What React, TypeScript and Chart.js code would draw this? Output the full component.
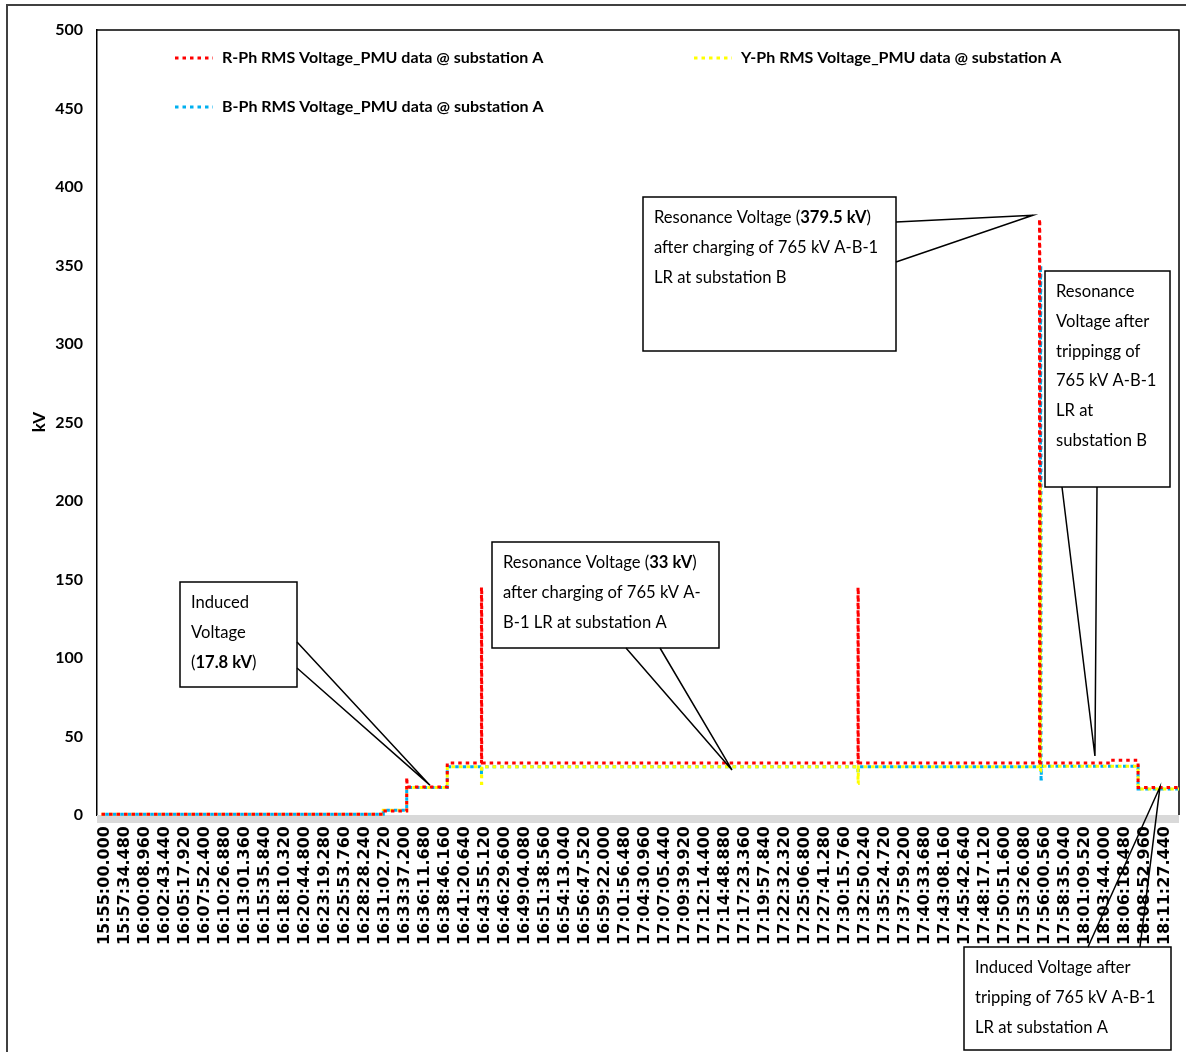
import React, { useEffect, useRef } from "react";
import { Chart, registerables } from "chart.js";

Chart.register(...registerables);

// ---------- data ----------
const tickLabels = [
  "15:55:00.000", "15:57:34.480", "16:00:08.960", "16:02:43.440", "16:05:17.920", "16:07:52.400",
  "16:10:26.880", "16:13:01.360", "16:15:35.840", "16:18:10.320", "16:20:44.800", "16:23:19.280",
  "16:25:53.760", "16:28:28.240", "16:31:02.720", "16:33:37.200", "16:36:11.680", "16:38:46.160",
  "16:41:20.640", "16:43:55.120", "16:46:29.600", "16:49:04.080", "16:51:38.560", "16:54:13.040",
  "16:56:47.520", "16:59:22.000", "17:01:56.480", "17:04:30.960", "17:07:05.440", "17:09:39.920",
  "17:12:14.400", "17:14:48.880", "17:17:23.360", "17:19:57.840", "17:22:32.320", "17:25:06.800",
  "17:27:41.280", "17:30:15.760", "17:32:50.240", "17:35:24.720", "17:37:59.200", "17:40:33.680",
  "17:43:08.160", "17:45:42.640", "17:48:17.120", "17:50:51.600", "17:53:26.080", "17:56:00.560",
  "17:58:35.040", "18:01:09.520", "18:03:44.000", "18:06:18.480", "18:08:52.960", "18:11:27.440",
];

const axisStart = "15:54:25.000";
const axisEnd = "18:13:38.000";

const seriesLabels = [
  "R-Ph RMS Voltage_PMU data @ substation A",
  "Y-Ph RMS Voltage_PMU data @ substation A",
  "B-Ph RMS Voltage_PMU data @ substation A",
];

const rTimes = [
  "15:55:00.000", "16:31:15.000", "16:34:16.000", "16:34:18.000", "16:39:29.000", "16:43:53.000",
  "16:43:55.000", "17:32:20.000", "17:32:22.000", "17:55:41.000", "17:55:43.000", "17:55:45.000",
  "18:04:46.000", "18:08:22.000", "18:13:38.000",
];
const rValues = [0.5, 2.5, 24, 17.8, 33.2, 145, 33.2, 145, 33.2, 379.5, 248, 33.2, 34.8, 17.5, 17.5];

const yTimes = [
  "15:55:00.000", "16:31:15.000", "16:34:16.000", "16:39:29.000", "16:43:53.000", "16:43:55.000",
  "17:32:20.000", "17:32:22.000", "17:55:45.000", "17:55:47.000", "17:55:49.000", "18:08:22.000",
  "18:13:38.000",
];
const yValues = [0.5, 3, 17.5, 30.8, 20, 30.8, 20, 30.8, 212, 28, 31, 16.5, 16.5];

const bTimes = [
  "15:55:00.000", "16:31:15.000", "16:34:16.000", "16:39:29.000", "16:43:53.000", "16:43:55.000",
  "17:32:20.000", "17:32:22.000", "17:55:49.000", "17:55:51.000", "17:55:53.000", "17:55:55.000",
  "18:08:22.000", "18:13:38.000",
];
const bValues = [0.5, 3, 17.5, 30.8, 26, 30.8, 26, 30.8, 350, 240, 23, 31, 16.5, 16.5];

const yTickMax = 500;
const yTickStep = 50;

// annotation texts (segments: [text, bold])
type Seg = [string, boolean];
const calloutTexts: Seg[][][] = [
  [[["Induced", false]], [["Voltage", false]], [["(", false], ["17.8 kV", true], [")", false]]],
  [
    [["Resonance Voltage (", false], ["33 kV", true], [")", false]],
    [["after charging of 765 kV A-", false]],
    [["B-1 LR at substation A", false]],
  ],
  [
    [["Resonance Voltage (", false], ["379.5 kV", true], [")", false]],
    [["after charging of 765 kV A-B-1", false]],
    [["LR at substation B", false]],
  ],
  [
    [["Resonance", false]],
    [["Voltage after", false]],
    [["trippingg of", false]],
    [["765 kV A-B-1", false]],
    [["LR at", false]],
    [["substation B", false]],
  ],
  [
    [["Induced Voltage after", false]],
    [["tripping of 765 kV A-B-1", false]],
    [["LR at substation A", false]],
  ],
];
// pointer tips in data coordinates
const calloutTipTimes = ["16:37:15.000", "17:16:07.000", "17:54:51.000", "18:02:49.000", "18:11:11.000"];
const calloutTipValues = [19, 28.7, 382, 37.6, 17.8];

// ---------- layout / style (not data) ----------
const calloutLayout = [
  { box: [180, 582, 297, 687], side: "right", base: [642, 668] },
  { box: [492, 542, 719, 648], side: "bottom", base: [626, 660] },
  { box: [643, 197, 896, 351], side: "right", base: [222, 262] },
  { box: [1045, 271, 1170, 487], side: "bottom", base: [1062, 1097] },
  { box: [964, 947, 1171, 1050], side: "top", base: [1088, 1140] },
];
const colors = ["#ff0000", "#ffff00", "#00b0f0"];
const dash = [3.5, 4];
const FONT = "Lato, 'Open Sans', sans-serif";

function toSec(s: string): number {
  const [h, m, sec] = s.split(":");
  return Number(h) * 3600 + Number(m) * 60 + Number(sec);
}
const BASE = toSec(tickLabels[0]);
const rel = (s: string) => toSec(s) - BASE;
const pts = (times: string[], values: number[]) => times.map((t, i) => ({ x: rel(t), y: values[i] }));

const decor = {
  id: "decor",
  beforeDatasetsDraw(chart: any) {
    const { ctx, chartArea: a } = chart;
    ctx.save();
    ctx.fillStyle = "#d9d9d9";
    ctx.fillRect(a.left, a.bottom, a.right - a.left, 8);
    ctx.strokeStyle = "#000";
    ctx.lineWidth = 1.5;
    ctx.beginPath();
    ctx.moveTo(a.left, a.top);
    ctx.lineTo(a.right, a.top);
    ctx.lineTo(a.right, a.bottom);
    ctx.stroke();
    ctx.restore();
  },
  afterDraw(chart: any) {
    const { ctx } = chart;
    const xs = chart.scales.x;
    const ys = chart.scales.y;
    ctx.save();
    // legend
    const legendPos = [
      [175, 58],
      [694, 58],
      [175, 107],
    ];
    chart.data.datasets.forEach((ds: any, i: number) => {
      const [lx, ly] = legendPos[i];
      ctx.strokeStyle = ds.borderColor;
      ctx.lineWidth = 3;
      ctx.setLineDash(dash);
      ctx.beginPath();
      ctx.moveTo(lx, ly);
      ctx.lineTo(lx + 38, ly);
      ctx.stroke();
      ctx.setLineDash([]);
      ctx.fillStyle = "#000";
      ctx.font = `bold 16px ${FONT}`;
      ctx.textBaseline = "middle";
      ctx.textAlign = "left";
      ctx.fillText(ds.label, lx + 47, ly);
    });
    // y title
    ctx.save();
    ctx.translate(40, 422);
    ctx.rotate(-Math.PI / 2);
    ctx.font = `bold 17px ${FONT}`;
    ctx.textAlign = "center";
    ctx.textBaseline = "middle";
    ctx.fillStyle = "#000";
    ctx.fillText("kV", 0, 0);
    ctx.restore();
    // callouts
    calloutLayout.forEach((c, i) => {
      const [x0, y0, x1, y1] = c.box;
      const tx = xs.getPixelForValue(rel(calloutTipTimes[i]));
      const ty = ys.getPixelForValue(calloutTipValues[i]);
      ctx.fillStyle = "#fff";
      ctx.fillRect(x0, y0, x1 - x0, y1 - y0);
      ctx.strokeStyle = "#000";
      ctx.lineWidth = 1.5;
      ctx.strokeRect(x0, y0, x1 - x0, y1 - y0);
      ctx.beginPath();
      if (c.side === "right") {
        ctx.moveTo(x1, c.base[0]);
        ctx.lineTo(tx, ty);
        ctx.lineTo(x1, c.base[1]);
      } else if (c.side === "bottom") {
        ctx.moveTo(c.base[0], y1);
        ctx.lineTo(tx, ty);
        ctx.lineTo(c.base[1], y1);
      } else {
        ctx.moveTo(c.base[0], y0);
        ctx.lineTo(tx, ty);
        ctx.lineTo(c.base[1], y0);
      }
      ctx.stroke();
      ctx.fillStyle = "#000";
      ctx.textBaseline = "middle";
      ctx.textAlign = "left";
      calloutTexts[i].forEach((line, li) => {
        let x = x0 + 11;
        const y = y0 + 21 + li * 29.7;
        line.forEach(([t, b]) => {
          ctx.font = `${b ? "bold " : ""}16.6px ${FONT}`;
          ctx.fillText(t, x, y);
          x += ctx.measureText(t).width;
        });
      });
    });
    // outer frame
    ctx.strokeStyle = "#404040";
    ctx.lineWidth = 2;
    ctx.beginPath();
    ctx.moveTo(7, 1052);
    ctx.lineTo(7, 5);
    ctx.lineTo(1186, 5);
    ctx.stroke();
    ctx.restore();
  },
};

export default function App() {
  const ref = useRef<HTMLCanvasElement | null>(null);
  useEffect(() => {
    if (!ref.current) return;
    const tickValues = tickLabels.map(rel);
    const chart = new Chart(ref.current, {
      type: "line",
      data: {
        datasets: [
          { label: seriesLabels[0], data: pts(rTimes, rValues), borderColor: colors[0], borderDash: dash, borderDashOffset: 0 },
          { label: seriesLabels[1], data: pts(yTimes, yValues), borderColor: colors[1], borderDash: dash, borderDashOffset: 0 },
          { label: seriesLabels[2], data: pts(bTimes, bValues), borderColor: colors[2], borderDash: dash, borderDashOffset: 3.75 },
        ].map((d) => ({
          ...d,
          borderWidth: 3,
          pointRadius: 0,
          stepped: true,
          tension: 0,
          fill: false,
          clip: false as any,
          borderCapStyle: "butt" as const,
        })),
      },
      options: {
        animation: false,
        responsive: false,
        devicePixelRatio: 1,
        layout: { padding: { left: 0, top: 30, right: 7, bottom: 0 } },
        plugins: { legend: { display: false }, tooltip: { enabled: false } },
        scales: {
          x: {
            type: "linear",
            min: rel(axisStart),
            max: rel(axisEnd),
            grid: { display: false, drawTicks: false },
            border: { display: false },
            afterBuildTicks: (scale: any) => {
              scale.ticks = tickValues.map((v) => ({ value: v }));
            },
            afterFit: (scale: any) => {
              scale.height = 237;
              scale.paddingLeft = 0;
              scale.paddingRight = 0;
            },
            ticks: {
              autoSkip: false,
              minRotation: 90,
              maxRotation: 90,
              padding: 11,
              labelOffset: 3,
              color: "#000",
              font: { family: "'DejaVu Sans'", size: 16, weight: "bold" },
              callback: (_v: any, i: number) => tickLabels[i],
            },
          },
          y: {
            min: 0,
            max: yTickMax,
            grid: { display: false, drawTicks: false },
            border: { display: true, color: "#000", width: 1.5 },
            afterFit: (scale: any) => {
              scale.width = 97;
              scale.paddingTop = 0;
              scale.paddingBottom = 0;
            },
            ticks: {
              stepSize: yTickStep,
              padding: 14,
              color: "#000",
              font: { family: FONT, size: 16, weight: "bold" },
            },
          },
        },
      },
      plugins: [decor],
    });
    return () => chart.destroy();
  }, []);
  return (
    <div style={{ position: "absolute", left: 0, top: 0, width: 1186, height: 1052, background: "#fff" }}>
      <canvas ref={ref} width={1186} height={1052} style={{ display: "block" }} />
    </div>
  );
}
